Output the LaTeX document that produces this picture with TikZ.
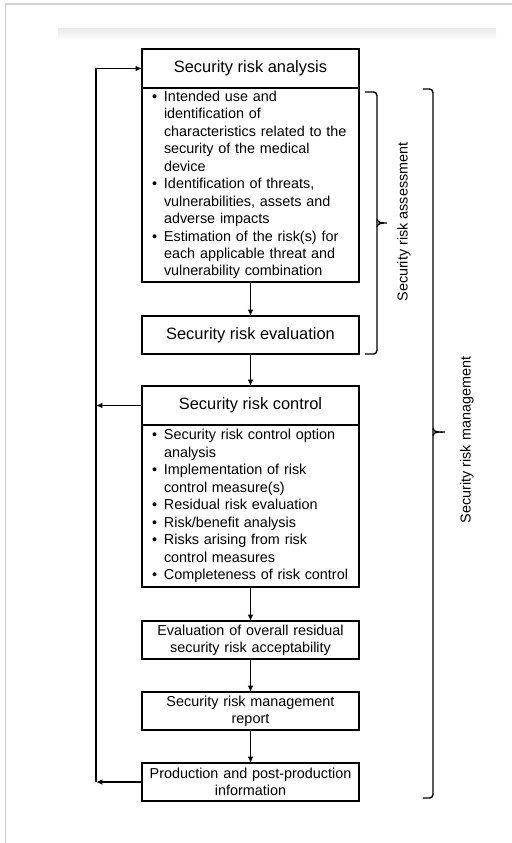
\documentclass[tikz,border=0pt]{standalone}
\usepackage{fontspec}
\setmainfont{Liberation Sans}
\usetikzlibrary{arrows.meta, positioning, calc}

\newcommand{\blt}{\makebox[0.3cm][l]{\textbullet}}
\newcommand{\bltind}{\hspace*{0.3cm}}

\begin{document}
\begin{tikzpicture}[
    head/.style={draw, line width=1.2pt, outer sep=0pt, minimum width=5.425cm, minimum height=0.975cm, inner sep=0pt, font=\fontsize{11.67}{14}\selectfont},
    items/.style={draw, line width=1.2pt, outer sep=0pt, text width=4.925cm, inner xsep=0.25cm, inner ysep=0pt, align=left, font=\fontsize{10.24}{12.4}\selectfont},
    stage/.style={draw, line width=1.2pt, outer sep=0pt, minimum width=5.425cm, minimum height=0.95cm, text width=5.2cm, align=center, inner xsep=0.1cm, inner ysep=0pt, font=\fontsize{10.24}{12.3}\selectfont},
    flow/.style={-{Latex[length=4.5pt,width=4pt]}, line width=1.1pt},
    bracket/.style={line width=1pt, rounded corners=2.5pt},
    side/.style={rotate=90, inner sep=0pt, font=\fontsize{10.24}{12.3}\selectfont}
]
    \useasboundingbox (0,0) rectangle (12.8,-21.075);

    % page frame
    \draw[black!18, line width=1.1pt] (0.1375,-21.075) -- (0.1375,-0.1) -- (12.8,-0.1);
    \shade[top color=black!8, bottom color=white] (1.45,-0.725) rectangle (12.4,-1.0);

    % assessment
    \node[head] (sra) at (6.2625,-1.7125) {Security risk analysis};
    \node[items, minimum height=4.85cm, below=0pt of sra] (srab) {%
        \blt Intended use and\\
        \bltind identification of\\
        \bltind characteristics related to the\\
        \bltind security of the medical\\
        \bltind device\\
        \blt Identification of threats,\\
        \bltind vulnerabilities, assets and\\
        \bltind adverse impacts\\
        \blt Estimation of the risk(s) for\\
        \bltind each applicable threat and\\
        \bltind vulnerability combination};
    \node[head, minimum height=0.95cm] (sre) at (6.2625,-8.375) {Security risk evaluation};

    % control
    \node[head] (src) at (6.2625,-10.1375) {Security risk control};
    \node[items, minimum height=4.05cm, below=0pt of src] (srcb) {%
        \blt Security risk control option\\
        \bltind analysis\\
        \blt Implementation of risk\\
        \bltind control measure(s)\\
        \blt Residual risk evaluation\\
        \blt Risk/benefit analysis\\
        \blt Risks arising from risk\\
        \bltind control measures\\
        \blt Completeness of risk control};

    \node[stage] (resid) at (6.2625,-16.0) {Evaluation of overall residual\\security risk acceptability};
    \node[stage] (report) at (6.2625,-17.775) {Security risk management\\report};
    \node[stage] (prod) at (6.2625,-19.55) {Production and post-production\\information};

    \draw[flow] (srab) -- (sre);
    \draw[flow] (sre) -- (src);
    \draw[flow] (srcb) -- (resid);
    \draw[flow] (resid) -- (report);
    \draw[flow] (report) -- (prod);

    % feedback loop
    \coordinate (loopbot) at (2.4,-19.55);
    \draw[flow] (prod.west) -- (loopbot);
    \draw[flow] (loopbot) |- (sra.west);
    \draw[flow] (src.west) -- (src.west -| loopbot);

    % braces
    \draw[bracket] (9.125,-2.3) -| (9.425,-8.85) -- (9.125,-8.85);
    \draw[line width=1pt] (9.425,-5.475) to[out=-90, in=180] (9.675,-5.575) to[out=180, in=90] (9.425,-5.675);
    \node[side] (assess) at (10.1,-5.55) {Security risk assessment};

    \draw[bracket] (10.575,-2.225) -| (10.825,-19.95) -- (10.575,-19.95);
    \draw[line width=1pt] (10.825,-10.7) to[out=-90, in=180] (11.125,-10.8) to[out=180, in=90] (10.825,-10.9);
    \node[side] (manage) at (11.675,-11.0) {Security risk management};
\end{tikzpicture}
\end{document}
